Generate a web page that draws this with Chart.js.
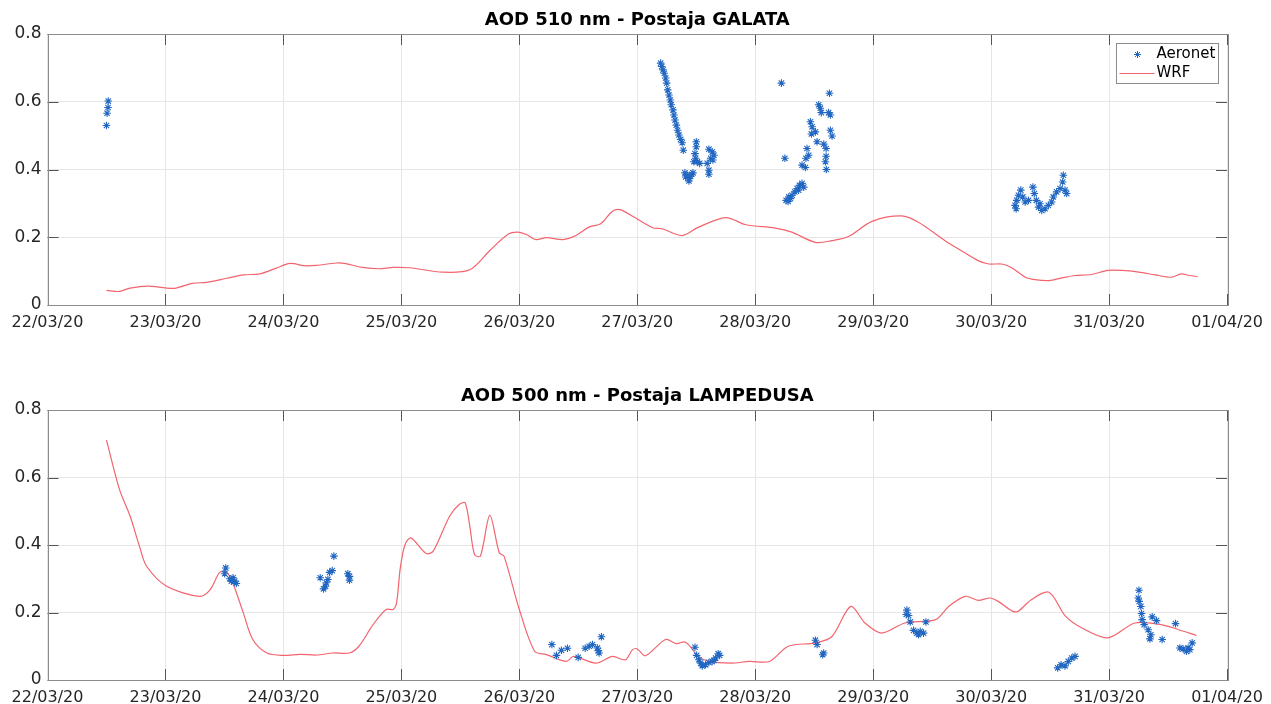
<!DOCTYPE html>
<html>
<head>
<meta charset="utf-8">
<script src="https://cdn.jsdelivr.net/npm/chart.js@4.4.1/dist/chart.umd.min.js"></script>
<style>
  body { margin: 0; background: #fff; }
  canvas { position: absolute; left: 0; }
  #galata { top: 0; }
  #lampedusa { top: 376px; }
</style>
</head>
<body>
<canvas id="galata" width="1271" height="352"></canvas>
<canvas id="lampedusa" width="1271" height="328"></canvas>
<script>
// x axis: days since 22/03/20 00:00
const dateLabels = ['22/03/20', '23/03/20', '24/03/20', '25/03/20', '26/03/20', '27/03/20',
  '28/03/20', '29/03/20', '30/03/20', '31/03/20', '01/04/20'];

// GALATA - Aeronet AOD 510 nm
const galataAeronetDay = [
  0.515, 0.513, 0.505, 0.500,
  5.198, 5.207, 5.218, 5.229, 5.241, 5.249, 5.258, 5.269, 5.280, 5.288, 5.303, 5.311, 5.320, 5.331,
  5.342, 5.353, 5.368, 5.381, 5.390,
  5.404, 5.424, 5.438, 5.452, 5.472, 5.410, 5.461, 5.438,
  5.500, 5.500, 5.489, 5.495, 5.480, 5.508, 5.529,
  5.607, 5.635, 5.650, 5.622, 5.641, 5.593, 5.607, 5.607,
  6.222, 6.629, 6.538, 6.552, 6.560, 6.622, 6.637, 6.468, 6.482, 6.510, 6.476, 6.637, 6.651,
  6.524, 6.581, 6.601, 6.439, 6.453, 6.430, 6.251, 6.601, 6.595, 6.603, 6.397, 6.425,
  6.262, 6.284, 6.312, 6.335, 6.355, 6.375, 6.397, 6.411, 6.299, 6.368, 6.278,
  8.203, 8.217, 8.231, 8.251, 8.268, 8.288, 8.316, 8.212,
  8.354, 8.366, 8.383, 8.402, 8.429, 8.457, 8.485, 8.513, 8.527, 8.555, 8.584, 8.606, 8.612,
  8.626, 8.640, 8.414
];
const galataAeronetAod = [
  0.602, 0.583, 0.566, 0.530,
  0.714, 0.704, 0.694, 0.684, 0.670, 0.655, 0.635, 0.620, 0.605, 0.591, 0.576, 0.561, 0.546, 0.531,
  0.516, 0.502, 0.489, 0.479, 0.457,
  0.390, 0.383, 0.373, 0.380, 0.390, 0.378, 0.386, 0.366,
  0.482, 0.467, 0.447, 0.433, 0.423, 0.423, 0.418,
  0.460, 0.452, 0.442, 0.433, 0.428, 0.418, 0.398, 0.386,
  0.655, 0.625, 0.591, 0.581, 0.568, 0.568, 0.561, 0.541, 0.526, 0.511, 0.505, 0.516, 0.499,
  0.482, 0.475, 0.462, 0.462, 0.442, 0.433, 0.433, 0.439, 0.423, 0.400, 0.413, 0.406,
  0.309, 0.319, 0.324, 0.334, 0.344, 0.353, 0.359, 0.348, 0.314, 0.339, 0.306,
  0.294, 0.309, 0.324, 0.339, 0.319, 0.304, 0.309, 0.284,
  0.348, 0.329, 0.309, 0.289, 0.279, 0.284, 0.294, 0.304, 0.319, 0.334, 0.344, 0.363, 0.383,
  0.339, 0.329, 0.299
];

// GALATA - WRF
const galataWrfDay = [
  0.50, 0.61, 0.70, 0.85, 1.01, 1.09, 1.23, 1.35, 1.52, 1.66, 1.80, 1.94, 2.04, 2.09, 2.17, 2.28,
  2.45, 2.53, 2.67, 2.81, 2.93, 3.07, 3.35, 3.58, 3.75, 3.91, 3.99, 4.06, 4.14, 4.23, 4.37, 4.48,
  4.59, 4.69, 4.79, 4.86, 4.96, 5.13, 5.21, 5.38, 5.52, 5.75, 5.92, 6.17, 6.31, 6.51, 6.65, 6.79,
  6.99, 7.24, 7.38, 7.61, 7.72, 7.89, 7.98, 8.09, 8.17, 8.29, 8.37, 8.49, 8.60, 8.71, 8.85, 8.99,
  9.11, 9.25, 9.39, 9.53, 9.61, 9.68, 9.75
];
const galataWrfAod = [
  0.043, 0.040, 0.050, 0.056, 0.050, 0.050, 0.064, 0.067, 0.079, 0.089, 0.092, 0.109, 0.122, 0.122, 0.116, 0.117,
  0.124, 0.122, 0.111, 0.107, 0.111, 0.110, 0.097, 0.104, 0.161, 0.210, 0.215, 0.208, 0.193, 0.199, 0.193, 0.205,
  0.230, 0.240, 0.277, 0.281, 0.262, 0.228, 0.225, 0.205, 0.230, 0.258, 0.237, 0.227, 0.215, 0.185, 0.190, 0.202,
  0.247, 0.263, 0.245, 0.190, 0.166, 0.131, 0.121, 0.121, 0.111, 0.082, 0.075, 0.072, 0.080, 0.087, 0.090, 0.102,
  0.102, 0.097, 0.089, 0.082, 0.092, 0.087, 0.084
];

// LAMPEDUSA - Aeronet AOD 500 nm
const lampedusaAeronetDay = [
  1.511, 1.502, 1.545, 1.573, 1.587, 1.601, 1.559,
  2.312, 2.340, 2.357, 2.377, 2.391, 2.414, 2.428, 2.363, 2.546, 2.560, 2.560,
  4.276, 4.315, 4.357, 4.408, 4.499, 4.558, 4.592, 4.620, 4.662, 4.676, 4.670, 4.696,
  5.489, 5.503, 5.522, 5.551, 5.579, 5.607, 5.635, 5.664, 5.686, 5.698, 5.537, 5.650,
  6.510, 6.524, 6.572, 6.580,
  7.286, 7.280, 7.300, 7.314, 7.342, 7.370, 7.399, 7.427, 7.447, 7.385,
  8.564, 8.593, 8.626, 8.654, 8.683, 8.711,
  9.253, 9.247, 9.255, 9.269, 9.275, 9.280, 9.297, 9.331, 9.346, 9.354, 9.365, 9.402, 9.450, 9.563,
  9.600, 9.628, 9.656, 9.684, 9.704, 9.670
];
const lampedusaAeronetAod = [
  0.332, 0.315, 0.300, 0.303, 0.293, 0.286, 0.293,
  0.303, 0.270, 0.278, 0.298, 0.319, 0.324, 0.367, 0.288, 0.315, 0.307, 0.296,
  0.105, 0.073, 0.088, 0.094, 0.067, 0.094, 0.100, 0.105, 0.095, 0.080, 0.087, 0.128,
  0.097, 0.073, 0.060, 0.042, 0.045, 0.052, 0.055, 0.065, 0.078, 0.073, 0.050, 0.058,
  0.118, 0.105, 0.075, 0.080,
  0.207, 0.194, 0.191, 0.172, 0.147, 0.139, 0.144, 0.139, 0.172, 0.134,
  0.036, 0.045, 0.042, 0.055, 0.065, 0.070,
  0.266, 0.243, 0.233, 0.218, 0.197, 0.179, 0.164, 0.149, 0.122, 0.134, 0.187, 0.176, 0.120, 0.167,
  0.095, 0.092, 0.085, 0.090, 0.110, 0.095
];

// LAMPEDUSA - WRF
const lampedusaWrfDay = [
  0.50, 0.61, 0.70, 0.78, 0.84, 1.01, 1.29, 1.38, 1.46, 1.52, 1.57, 1.66, 1.74, 1.86, 2.00, 2.14,
  2.28, 2.42, 2.56, 2.64, 2.76, 2.87, 2.93, 2.96, 2.99, 3.03, 3.08, 3.21, 3.27, 3.41, 3.49, 3.54,
  3.58, 3.62, 3.67, 3.75, 3.83, 3.87, 4.00, 4.13, 4.23, 4.40, 4.46, 4.65, 4.79, 4.90, 4.96, 5.00,
  5.07, 5.24, 5.33, 5.41, 5.52, 5.61, 5.80, 5.95, 6.12, 6.28, 6.51, 6.65, 6.81, 6.93, 7.07, 7.27,
  7.53, 7.64, 7.78, 7.89, 7.99, 8.06, 8.18, 8.23, 8.34, 8.49, 8.63, 8.77, 8.99, 9.22, 9.44, 9.59,
  9.74
];
const lampedusaWrfAod = [
  0.711, 0.565, 0.486, 0.396, 0.337, 0.278, 0.248, 0.268, 0.319, 0.319, 0.288, 0.199, 0.120, 0.080, 0.073, 0.076,
  0.074, 0.080, 0.080, 0.100, 0.164, 0.209, 0.209, 0.230, 0.330, 0.400, 0.421, 0.375, 0.382, 0.486, 0.520, 0.525,
  0.456, 0.372, 0.367, 0.488, 0.377, 0.367, 0.209, 0.085, 0.075, 0.055, 0.070, 0.050, 0.070, 0.060, 0.090, 0.092,
  0.072, 0.120, 0.108, 0.112, 0.070, 0.055, 0.050, 0.055, 0.055, 0.100, 0.110, 0.129, 0.218, 0.169, 0.139, 0.169,
  0.179, 0.218, 0.248, 0.236, 0.243, 0.233, 0.204, 0.204, 0.238, 0.260, 0.189, 0.154, 0.125, 0.169, 0.164, 0.149,
  0.132
];

const FONT = 'DejaVu Sans';
const BLUE = '#2167c2';
const RED = '#f2646e';

function pairs(xs, ys) {
  return xs.map((x, i) => ({ x: x, y: ys[i] }));
}

// axes box with inward tick marks, matlab style, plus title centred over the axes
const framePlugin = {
  id: 'frame',
  afterDatasetsDraw(chart, args, opts) {
    const { ctx, chartArea: a, scales } = chart;
    ctx.save();
    ctx.strokeStyle = '#555';
    ctx.lineWidth = 1;
    ctx.beginPath();
    scales.x.ticks.forEach(t => {
      const px = Math.round(scales.x.getPixelForValue(t.value)) + 0.5;
      ctx.moveTo(px, a.bottom); ctx.lineTo(px, a.bottom - 11);
      ctx.moveTo(px, a.top); ctx.lineTo(px, a.top + 11);
    });
    scales.y.ticks.forEach(t => {
      const py = Math.round(scales.y.getPixelForValue(t.value)) + 0.5;
      ctx.moveTo(a.left, py); ctx.lineTo(a.left + 11, py);
      ctx.moveTo(a.right, py); ctx.lineTo(a.right - 11, py);
    });
    ctx.stroke();
    ctx.strokeStyle = '#8c8c8c';
    ctx.strokeRect(Math.round(a.left) + 0.5, Math.round(a.top) + 0.5,
      Math.round(a.right - a.left), Math.round(a.bottom - a.top));

    ctx.fillStyle = '#000';
    ctx.font = 'bold 18px "' + FONT + '"';
    ctx.textAlign = 'center';
    ctx.textBaseline = 'middle';
    ctx.fillText(opts.text, (a.left + a.right) / 2, a.top - 13.5);
    ctx.restore();
  }
};

// boxed legend in the upper right corner
const boxLegendPlugin = {
  id: 'boxLegend',
  afterDraw(chart) {
    const { ctx, chartArea: a } = chart;
    const w = 102, h = 40;
    const x0 = Math.round(a.right - 9 - w) + 0.5, y0 = Math.round(a.top + 9) + 0.5;
    ctx.save();
    ctx.fillStyle = '#fff';
    ctx.fillRect(x0, y0, w, h);
    ctx.strokeStyle = '#8c8c8c';
    ctx.lineWidth = 1;
    ctx.strokeRect(x0, y0, w, h);
    // Aeronet marker
    ctx.strokeStyle = BLUE;
    ctx.fillStyle = BLUE;
    Chart.helpers.drawPoint(ctx, { pointStyle: 'star', radius: 3.5, borderWidth: 1 }, x0 + 21, y0 + 11);
    // WRF line
    ctx.beginPath();
    ctx.strokeStyle = RED;
    ctx.lineWidth = 1.2;
    ctx.moveTo(x0 + 3, y0 + 30); ctx.lineTo(x0 + 38, y0 + 30);
    ctx.stroke();
    ctx.fillStyle = '#000';
    ctx.font = '15px "' + FONT + '"';
    ctx.textBaseline = 'middle';
    ctx.fillText('Aeronet', x0 + 40, y0 + 11);
    ctx.fillText('WRF', x0 + 40, y0 + 30);
    ctx.restore();
  }
};

function makeChart(id, title, aerDay, aerAod, wrfDay, wrfAod, xAxisHeight, withLegend) {
  const plugins = [framePlugin];
  if (withLegend) plugins.push(boxLegendPlugin);
  return new Chart(document.getElementById(id), {
    type: 'scatter',
    data: {
      datasets: [
        {
          label: 'Aeronet',
          data: pairs(aerDay, aerAod),
          showLine: false,
          pointStyle: 'star',
          pointRadius: 3.8,
          pointBorderWidth: 1.1,
          borderColor: BLUE,
          backgroundColor: BLUE
        },
        {
          label: 'WRF',
          data: pairs(wrfDay, wrfAod),
          showLine: true,
          pointRadius: 0,
          borderWidth: 1.2,
          borderColor: RED,
          tension: 0.3
        }
      ]
    },
    options: {
      responsive: false,
      animation: false,
      layout: { padding: { left: 0, right: 42, top: 34, bottom: 0 } },
      plugins: {
        legend: { display: false },
        tooltip: { enabled: false },
        title: { display: false },
        frame: { text: title }
      },
      scales: {
        x: {
          type: 'linear',
          min: 0,
          max: 10,
          afterFit: s => { s.height = xAxisHeight; },
          border: { display: false },
          grid: { color: '#e6e6e6', drawTicks: false },
          ticks: {
            stepSize: 1,
            autoSkip: false,
            maxRotation: 0,
            padding: 8,
            color: '#262626',
            font: { family: FONT, size: 16 },
            callback: v => dateLabels[v]
          }
        },
        y: {
          min: 0,
          max: 0.8,
          afterFit: s => { s.width = 47.5; },
          border: { display: false },
          grid: { color: '#e6e6e6', drawTicks: false },
          ticks: {
            stepSize: 0.2,
            padding: 6,
            color: '#262626',
            font: { family: FONT, size: 17 }
          }
        }
      }
    },
    plugins: plugins
  });
}

makeChart('galata', 'AOD 510 nm - Postaja GALATA',
  galataAeronetDay, galataAeronetAod, galataWrfDay, galataWrfAod, 47, true);
makeChart('lampedusa', 'AOD 500 nm - Postaja LAMPEDUSA',
  lampedusaAeronetDay, lampedusaAeronetAod, lampedusaWrfDay, lampedusaWrfAod, 24, false);
</script>
</body>
</html>
